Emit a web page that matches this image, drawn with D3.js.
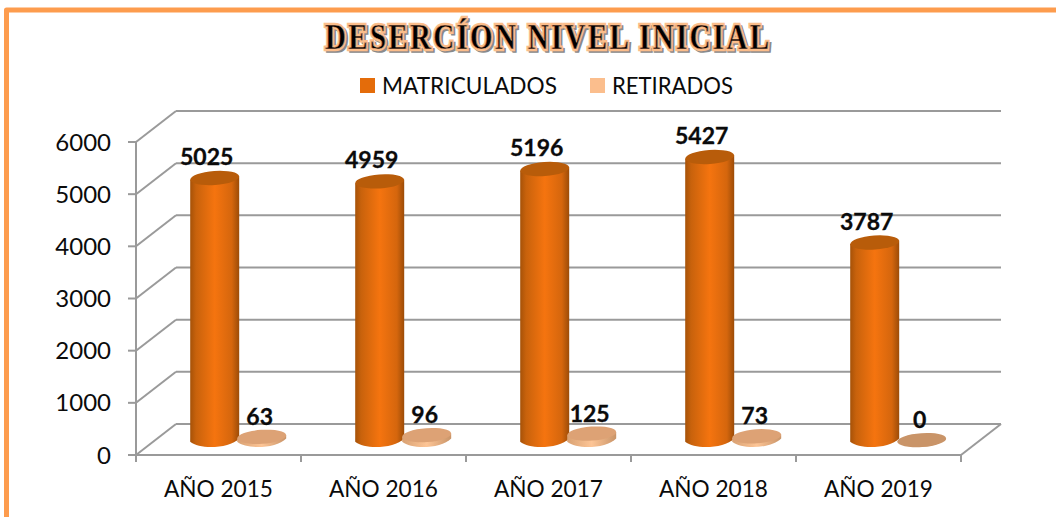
<!DOCTYPE html>
<html>
<head>
<meta charset="utf-8">
<script src="https://cdn.jsdelivr.net/npm/d3@7"></script>
<style>
  html, body { margin: 0; padding: 0; background: #fff; }
  svg { display: block; }
  text { font-family: Lato, "Open Sans", sans-serif; fill: #0b0b0b; }
</style>
</head>
<body>
<div id="chart"></div>
<script>
// ── Data ──────────────────────────────────
const years       = ['AÑO 2015', 'AÑO 2016', 'AÑO 2017', 'AÑO 2018', 'AÑO 2019'];
const matriculados = [5025, 4959, 5196, 5427, 3787];
const retirados    = [63, 96, 125, 73, 0];
const yTicks       = [0, 1000, 2000, 3000, 4000, 5000, 6000];
const legendNames  = ['MATRICULADOS', 'RETIRADOS'];
const titleText    = 'DESERCÍON NIVEL INICIAL';

const W = 1056, H = 517;
const svg = d3.select('#chart').append('svg').attr('width', W).attr('height', H);

// Front edge of the 3D box, plus the depth offset to the back wall
const x = d3.scaleBand().domain(years).range([136, 961]);
const y = d3.scaleLinear().domain([0, 6000]).range([455, 142]);
const depthX = 40, depthY = -31;
const barDepth = 0.48;               // bars stand about halfway into the floor
const seriesShift = [-23, 24];       // offset of each series from category centre
const rx = 24.5, ry = 7, tilt = -4;

// ── Gradients ─────────────────────────────
const defs = svg.append('defs');
const grad = defs.append('linearGradient').attr('id', 'cyl');
[[0, '#a65208'], [0.12, '#c8620c'], [0.5, '#f5740f'], [0.85, '#d5660d'], [1, '#9c4c08']]
  .forEach(s => grad.append('stop').attr('offset', s[0]).attr('stop-color', s[1]));
const gradR = defs.append('linearGradient').attr('id', 'disc');
[[0, '#d9a172'], [0.5, '#fdc596'], [1, '#c99468']]
  .forEach(s => gradR.append('stop').attr('offset', s[0]).attr('stop-color', s[1]));

// ── Frame ─────────────────────────────────
svg.append('path')
  .attr('d', `M6.5,${H} V10 H${W}`)
  .attr('fill', 'none').attr('stroke', '#fd9c4e').attr('stroke-width', 5)
  .attr('stroke-linejoin', 'round');

// ── Title ─────────────────────────────────
// Stretched vertically: the original face is tall and narrow with open spacing
const title = svg.append('g').attr('class', 'title')
  .attr('transform', 'translate(547,49) scale(1,1.22)');
const titleAttrs = s => s
  .attr('text-anchor', 'middle')
  .attr('textLength', 444)
  .attr('lengthAdjust', 'spacing')
  .style('font-family', '"Liberation Serif", serif')
  .style('font-weight', 'bold')
  .style('font-size', '29px');
title.append('text').text(titleText).call(titleAttrs)
  .attr('transform', 'translate(2,1.6)')
  .style('fill', '#8a8a8a').style('stroke', '#8a8a8a').style('stroke-width', 3);
title.append('text').text(titleText).call(titleAttrs)
  .style('fill', '#000').style('stroke', '#fbbd8b').style('stroke-width', 3.5).style('paint-order', 'stroke');
title.append('text').text(titleText).call(titleAttrs)
  .style('fill', '#000').style('stroke', '#fbbd8b').style('stroke-width', 0.5);

// ── Legend ────────────────────────────────
const legendX = [360, 590], legendColors = ['#e46c0a', '#fbbe8d'];
const legendW = [175, 121];
legendNames.forEach((name, i) => {
  svg.append('rect').attr('x', legendX[i]).attr('y', 78).attr('width', 15).attr('height', 15).attr('fill', legendColors[i]);
  svg.append('text').text(name).attr('x', legendX[i] + 22).attr('y', 94)
    .attr('textLength', legendW[i]).attr('lengthAdjust', 'spacingAndGlyphs')
    .style('font-size', '23.5px');
});

// ── Walls and gridlines ───────────────────
const axisColor = '#9a9a9a';
const line = (a, b, c) => svg.append('line')
  .attr('x1', a[0]).attr('y1', a[1]).attr('x2', b[0]).attr('y2', b[1])
  .attr('stroke', c || axisColor).attr('stroke-width', 2);
const x0 = x.range()[0], x1 = x.range()[1];

yTicks.forEach(t => {
  line([x0, y(t)], [x0 + depthX, y(t) + depthY]);
  line([x0 + depthX, y(t) + depthY], [x1 + depthX, y(t) + depthY]);
  line([x0 - 8, y(t)], [x0, y(t)]);
  svg.append('text').text(t)
    .attr('x', 111).attr('y', y(t) + 8.5)
    .attr('text-anchor', 'end').style('font-size', '24px');
});
line([x0, y(0)], [x0, y(6000)]);
line([x0, y(0)], [x1, y(0)]);
line([x1, y(0)], [x1 + depthX, y(0) + depthY]);

// Category ticks and labels
x.domain().concat([null]).forEach((d, i) => {
  const px = x0 + i * x.step();
  line([px, y(0)], [px, y(0) + 7]);
});
svg.selectAll('.cat').data(years).enter().append('text')
  .attr('class', 'cat').text(d => d)
  .attr('x', d => x(d) + x.bandwidth() / 2)
  .attr('y', 497)
  .attr('text-anchor', 'middle').attr('textLength', 109).attr('lengthAdjust', 'spacingAndGlyphs')
  .style('font-size', '23.5px');

// ── Cylinders ─────────────────────────────
function cylinder(g, cx, yBase, yTop, fill, capFill) {
  const path = d3.path();
  const lean = rx * Math.sin(-tilt * Math.PI / 180);
  path.moveTo(cx - rx, yTop + lean);
  path.lineTo(cx - rx, yBase + lean);
  path.bezierCurveTo(cx - rx * 0.6, yBase + ry * 1.4, cx + rx * 0.6, yBase + ry * 1.2, cx + rx, yBase - lean);
  path.lineTo(cx + rx, yTop - lean);
  path.closePath();
  g.append('path').attr('d', path.toString()).attr('fill', fill);
  g.append('ellipse')
    .attr('cx', cx).attr('cy', yTop).attr('rx', rx).attr('ry', ry)
    .attr('transform', `rotate(${tilt} ${cx} ${yTop})`)
    .attr('fill', capFill);
}

const barsG = svg.append('g');
const baseY = y(0) + depthY * barDepth;
const labelStyle = s => s.attr('text-anchor', 'middle').style('font-size', '23px').style('font-weight', 'bold')
  .style('stroke', '#0b0b0b').style('stroke-width', 0.3);
years.forEach((yr, i) => {
  const cx = x(yr) + x.bandwidth() / 2 + depthX * barDepth;
  const h = v => y(0) - y(v);

  // tall orange series
  const cxA = cx + seriesShift[0];
  cylinder(barsG, cxA, baseY, baseY - h(matriculados[i]), 'url(#cyl)', '#b85c0a');
  barsG.append('text').text(matriculados[i])
    .attr('x', cxA - 8).attr('y', baseY - h(matriculados[i]) - 13)
    .call(labelStyle);

  // flat peach series
  const cxB = cx + seriesShift[1];
  cylinder(barsG, cxB, baseY, baseY - h(retirados[i]), 'url(#disc)', retirados[i] ? '#dda275' : '#c99468');
  barsG.append('text').text(retirados[i])
    .attr('x', cxB - 2).attr('y', baseY - h(retirados[i]) - 12)
    .call(labelStyle);
});
</script>
</body>
</html>
